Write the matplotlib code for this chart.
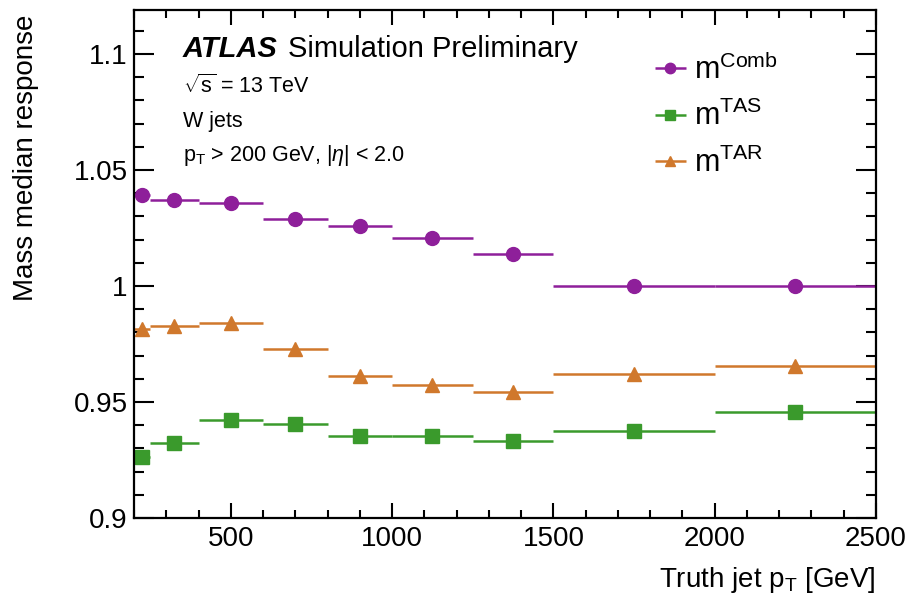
import numpy as np
import matplotlib.pyplot as plt
from matplotlib.ticker import MultipleLocator

# Truth jet pT bins [GeV]
bin_lo = np.array([200, 250, 400, 600, 800, 1000, 1250, 1500, 2000])
bin_hi = np.array([250, 400, 600, 800, 1000, 1250, 1500, 2000, 2500])

# Mass median response per bin
resp_comb = [1.0392, 1.0372, 1.0357, 1.0288, 1.0257, 1.0209, 1.0138, 1.0000, 1.0000]
resp_tas = [0.9262, 0.9323, 0.9422, 0.9407, 0.9354, 0.9353, 0.9333, 0.9377, 0.9456]
resp_tar = [0.9813, 0.9828, 0.9841, 0.9730, 0.9613, 0.9572, 0.9545, 0.9621, 0.9654]

plt.rcParams['font.family'] = 'Liberation Sans'
plt.rcParams['mathtext.fontset'] = 'custom'
plt.rcParams['mathtext.rm'] = 'Liberation Sans'
plt.rcParams['mathtext.it'] = 'Liberation Sans:italic'
plt.rcParams['mathtext.bf'] = 'Liberation Sans:bold'

fig = plt.figure(figsize=(9.1, 6.03), dpi=100)
ax = fig.add_axes([0.1473, 0.141, 0.8153, 0.8424])

centers = 0.5 * (bin_lo + bin_hi)
half = 0.5 * (bin_hi - bin_lo)

series = [
    (resp_comb, 'o', '#8E1F9A', r'm$^{\mathrm{Comb}}$', 10),
    (resp_tas, 's', '#3A9A2C', r'm$^{\mathrm{TAS}}$', 9.5),
    (resp_tar, '^', '#D0782C', r'm$^{\mathrm{TAR}}$', 10),
]
handles = []
for vals, mk, col, lab, ms in series:
    h = ax.errorbar(centers, vals, xerr=half, fmt=mk, color=col, ms=ms,
                    elinewidth=1.8, capsize=0, label=lab)
    handles.append(h)

ax.set_xlim(200, 2500)
ax.set_ylim(0.9, 1.119)

ax.xaxis.set_major_locator(MultipleLocator(500))
ax.xaxis.set_minor_locator(MultipleLocator(100))
ax.yaxis.set_minor_locator(MultipleLocator(0.01))
ax.set_yticks([0.9, 0.95, 1.0, 1.05, 1.1])
ax.set_yticklabels(['0.9', '0.95', '1', '1.05', '1.1'])

ax.tick_params(which='both', direction='in', top=True, right=True,
               labelsize=20, width=1.5)
ax.tick_params(axis='x', which='major', length=11, pad=6)
ax.tick_params(axis='x', which='minor', length=5.5)
ax.tick_params(axis='y', which='major', length=14.5, pad=4.5)
ax.tick_params(axis='y', which='minor', length=7.5)
for sp in ax.spines.values():
    sp.set_linewidth(1.6)

ax.set_xlabel(r'Truth jet p$_{\mathrm{T}}$ [GeV]', fontsize=20, loc='right')
ax.set_ylabel('Mass median response', fontsize=20, loc='top')
ax.xaxis.set_label_coords(1.0, -0.092)
ax.yaxis.set_label_coords(-0.128, 0.99)

# ATLAS label block
ax.text(0.066, 0.907, 'ATLAS', transform=ax.transAxes, fontsize=21,
        fontweight='bold', fontstyle='italic')
ax.text(0.208, 0.907, 'Simulation Preliminary', transform=ax.transAxes, fontsize=21)
ax.text(0.066, 0.837, r'$\sqrt{\mathrm{s}}$ = 13 TeV', transform=ax.transAxes, fontsize=15.5)
ax.text(0.066, 0.770, 'W jets', transform=ax.transAxes, fontsize=15.5)
ax.text(0.066, 0.703, r'p$_{\mathrm{T}}$ > 200 GeV, |$\eta$| < 2.0',
        transform=ax.transAxes, fontsize=15.5)

ax.legend(handles=handles, loc='upper left', bbox_to_anchor=(0.662, 0.968),
          frameon=False, fontsize=22, handlelength=1.15, handletextpad=0.2,
          labelspacing=0.5, markerscale=0.75)

fig.savefig('out.png', dpi=100)
